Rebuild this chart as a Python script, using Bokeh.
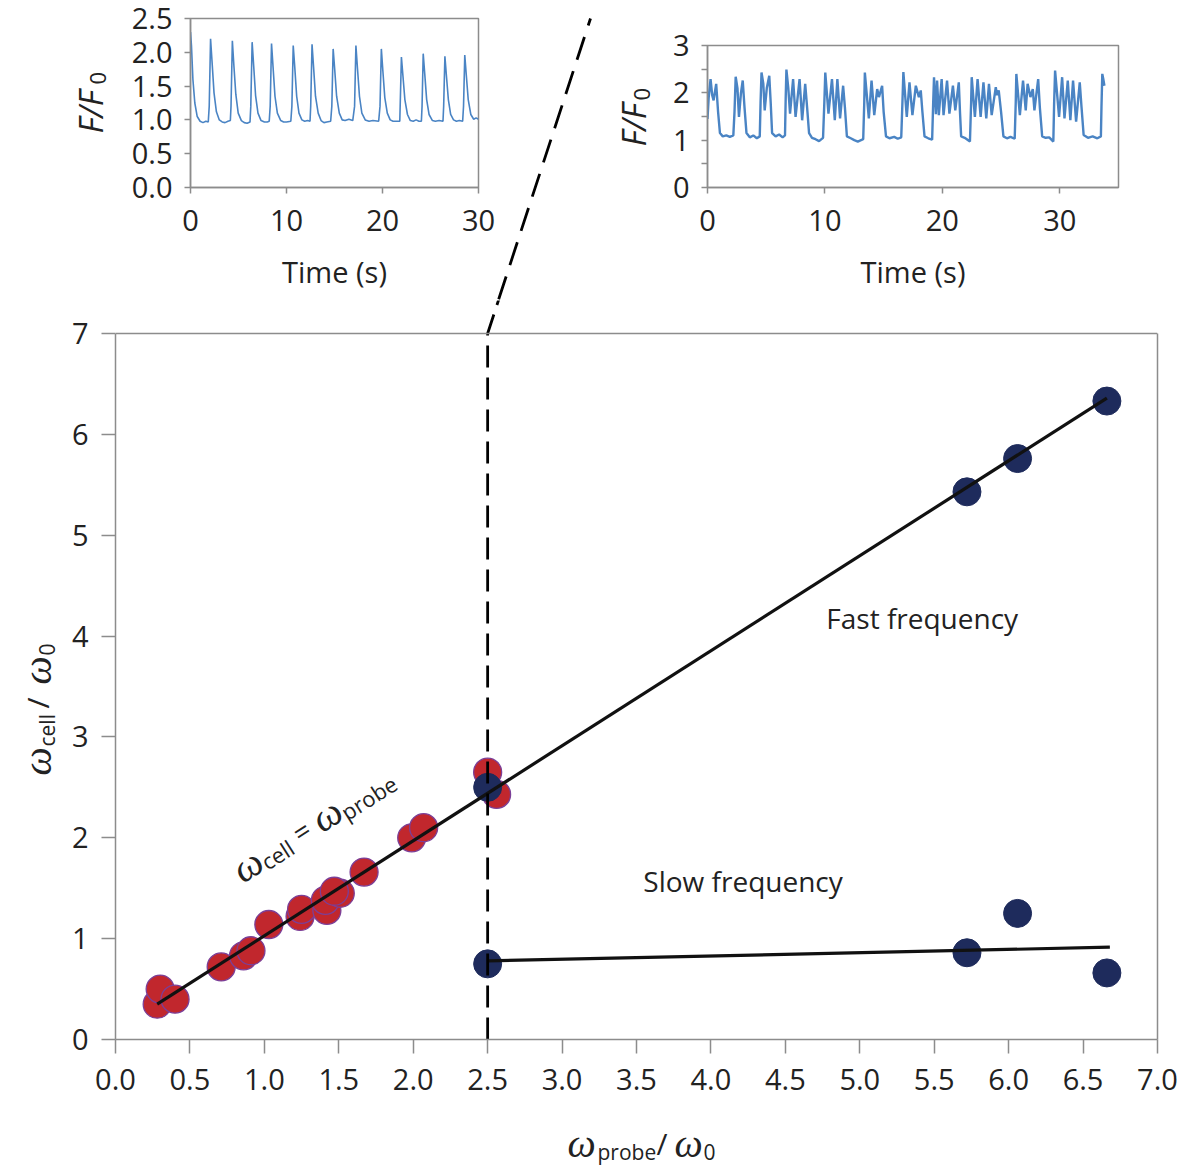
import math
from bokeh.plotting import figure
from bokeh.layouts import column, row
from bokeh.models import Label, FixedTicker, PrintfTickFormatter, LinearAxis, Span
from bokeh.embed import file_html
from bokeh.resources import INLINE

FONT = "Open Sans"
SERIF = "Liberation Serif"
INK = "#222222"
FRAME = "#8c8c8c"
TRACE = "#4a84c4"

# ---- main panel: cell frequency vs probe frequency ----
red_probe = [0.28, 0.30, 0.40, 0.71, 0.86, 0.91, 1.03, 1.24, 1.25, 1.42, 1.41, 1.51, 1.47, 1.67, 1.99, 2.07, 2.50, 2.56]
red_cell = [0.35, 0.50, 0.40, 0.72, 0.83, 0.88, 1.14, 1.22, 1.29, 1.28, 1.38, 1.45, 1.47, 1.66, 2.00, 2.10, 2.65, 2.43]

fast_probe = [2.50, 5.72, 6.06, 6.66]
fast_cell = [2.50, 5.43, 5.76, 6.33]
slow_probe = [2.50, 5.72, 6.06, 6.66]
slow_cell = [0.75, 0.86, 1.25, 0.66]

fit_fast_x = [0.28, 6.66]
fit_fast_y = [0.35, 6.36]
fit_slow_x = [2.50, 6.68]
fit_slow_y = [0.78, 0.915]

# dashed split at 2.5, bending off toward the right-hand inset above the panel
split_x = [2.5, 2.5, 3.19]
split_y = [0.0, 7.0, 10.12]

main_xticks = [0.0, 0.5, 1.0, 1.5, 2.0, 2.5, 3.0, 3.5, 4.0, 4.5, 5.0, 5.5, 6.0, 6.5, 7.0]
main_yticks = [0, 1, 2, 3, 4, 5, 6, 7]

# ---- left inset: regular spiking trace ----
regular_t = [0.0, 0.1, 0.25, 0.45, 0.7, 1.0, 1.3, 1.6, 1.85,
             1.95, 2.09, 2.25, 2.45, 2.7, 3.0, 3.3, 3.6, 3.9, 4.15,
             4.22, 4.36, 4.52, 4.72, 4.97, 5.3, 5.6, 5.9, 6.2,
             6.28, 6.42, 6.58, 6.78, 7.03, 7.35, 7.7, 8.0, 8.2,
             8.3, 8.44, 8.6, 8.8, 9.05, 9.4, 9.7, 10.0, 10.45,
             10.56, 10.7, 10.86, 11.06, 11.3, 11.6, 11.9, 12.2, 12.45,
             12.52, 12.66, 12.82, 13.02, 13.3, 13.6, 13.9, 14.2, 14.6,
             14.72, 14.86, 15.02, 15.22, 15.5, 15.8, 16.1, 16.5, 16.9,
             17.09, 17.23, 17.4, 17.6, 17.85, 18.2, 18.6, 19.0, 19.6,
             19.74, 19.88, 20.04, 20.24, 20.5, 20.8, 21.1, 21.5, 21.8,
             21.84, 21.97, 22.13, 22.33, 22.6, 22.9, 23.2, 23.5, 23.8, 24.05,
             24.12, 24.24, 24.4, 24.6, 24.85, 25.2, 25.5, 25.9, 26.3,
             26.37, 26.5, 26.66, 26.86, 27.1, 27.4, 27.7, 28.0, 28.35,
             28.44, 28.57, 28.73, 28.93, 29.2, 29.5, 29.75, 30.0]
regular_f = [2.30, 2.10, 1.60, 1.25, 1.05, 0.98, 0.96, 0.98, 0.97,
             1.20, 2.20, 1.85, 1.40, 1.12, 1.00, 0.97, 0.96, 0.98, 0.99,
             1.20, 2.17, 1.80, 1.38, 1.10, 0.99, 0.96, 0.95, 0.97,
             1.20, 2.15, 1.80, 1.36, 1.10, 0.99, 0.97, 0.97, 0.98,
             1.20, 2.13, 1.78, 1.35, 1.10, 0.99, 0.97, 0.97, 0.98,
             1.20, 2.10, 1.78, 1.35, 1.10, 1.00, 0.98, 0.99, 0.98,
             1.20, 2.12, 1.78, 1.35, 1.10, 0.99, 0.96, 0.97, 0.98,
             1.20, 2.05, 1.75, 1.35, 1.10, 1.00, 0.99, 1.01, 0.99,
             1.20, 2.10, 1.75, 1.35, 1.10, 1.00, 0.98, 0.99, 0.98,
             1.20, 2.05, 1.72, 1.33, 1.10, 1.00, 0.98, 0.98, 0.98,
             1.20, 1.93, 1.65, 1.30, 1.08, 0.99, 0.98, 1.00, 0.98, 0.98,
             1.20, 1.98, 1.68, 1.30, 1.08, 0.99, 0.98, 0.99, 0.98,
             1.20, 1.94, 1.65, 1.30, 1.08, 1.00, 0.98, 0.99, 0.98,
             1.20, 1.96, 1.66, 1.30, 1.08, 1.01, 1.03, 1.01]

# ---- right inset: bursting trace ----
burst_t = [0.0, 0.1, 0.26, 0.4, 0.52, 0.74, 0.9, 1.06, 1.3, 1.6, 1.9, 2.2,
           2.3, 2.4, 2.55, 2.68, 2.85, 3.0, 3.15, 3.32, 3.6, 3.9, 4.2, 4.45,
           4.52, 4.6, 4.75, 4.87, 5.05, 5.26, 5.38, 5.5, 5.8, 6.1, 6.4, 6.6,
           6.66, 6.72, 6.88, 7.03, 7.29, 7.5, 7.84, 8.06, 8.32, 8.48, 8.65, 8.9, 9.2, 9.5, 9.84,
           9.95, 10.03, 10.3, 10.6, 10.84, 11.06, 11.29, 11.55, 11.7, 11.87, 12.2, 12.5, 12.8, 13.26,
           13.35, 13.4, 13.74, 13.97, 14.2, 14.45, 14.6, 14.87, 15.0, 15.2, 15.5, 15.9, 16.2, 16.5,
           16.6, 16.68, 16.97, 17.2, 17.45, 17.74, 18.0, 18.16, 18.3, 18.48, 18.8, 19.13,
           19.22, 19.29, 19.45, 19.55, 19.7, 19.94, 20.1, 20.4, 20.6, 20.9, 21.1, 21.4, 21.5, 21.6, 21.9, 22.35,
           22.45, 22.5, 22.77, 23.0, 23.26, 23.5, 23.74, 23.97, 24.2, 24.55, 24.65, 24.8, 25.0, 25.2, 25.5, 25.8, 26.16,
           26.25, 26.3, 26.6, 26.87, 27.1, 27.26, 27.5, 27.7, 27.84, 28.16, 28.3, 28.5, 28.8, 29.1, 29.45,
           29.52, 29.6, 29.94, 30.2, 30.4, 30.68, 30.9, 31.13, 31.39, 31.7, 31.85, 32.03, 32.4, 32.8, 33.2, 33.5,
           33.55, 33.62, 33.7, 33.8]
burst_f = [1.45, 1.90, 2.29, 1.95, 1.84, 2.19, 1.60, 1.15, 1.08, 1.10, 1.07, 1.10,
           1.60, 2.34, 2.10, 1.49, 2.00, 2.26, 1.70, 1.15, 1.06, 1.10, 1.04, 1.08,
           1.80, 2.43, 2.20, 1.63, 2.10, 2.36, 1.80, 1.15, 1.08, 1.12, 1.06, 1.10,
           1.90, 2.49, 2.10, 1.56, 2.29, 1.49, 2.29, 1.42, 2.19, 1.70, 1.15, 1.05, 1.02, 0.98, 1.05,
           1.80, 2.43, 1.56, 2.29, 1.42, 2.29, 1.46, 2.15, 1.70, 1.08, 1.04, 1.00, 0.97, 1.02,
           1.80, 2.43, 1.46, 2.26, 1.53, 2.08, 1.91, 2.15, 1.60, 1.08, 1.04, 1.07, 1.03, 1.06,
           1.80, 2.44, 1.49, 2.22, 1.53, 2.15, 1.91, 2.05, 1.60, 1.08, 1.04, 1.01,
           1.80, 2.33, 1.55, 2.26, 1.53, 2.29, 1.53, 2.26, 1.56, 2.15, 1.63, 2.22, 1.60, 1.08, 1.05, 0.97,
           1.80, 2.33, 1.49, 2.29, 1.49, 2.22, 1.46, 2.19, 1.53, 2.12, 1.95, 2.05, 1.60, 1.08, 1.04, 1.07, 1.03,
           1.80, 2.40, 1.53, 2.26, 1.63, 2.19, 1.91, 2.08, 1.63, 2.29, 1.70, 1.08, 1.05, 1.06, 0.97,
           1.80, 2.47, 1.49, 2.33, 1.46, 2.26, 1.42, 2.26, 1.39, 2.22, 1.70, 1.11, 1.05, 1.08, 1.04, 1.08,
           1.70, 2.40, 2.30, 2.15]

regular_xticks = [0, 10, 20, 30]
regular_yticks = [0.0, 0.5, 1.0, 1.5, 2.0, 2.5]
burst_xticks = [0, 10, 20, 30]
burst_yticks = [0, 1, 2, 3]
burst_yminor = [0.5, 1.5, 2.5]

# upper part of the dashed zoom line, in page pixels
zoom_x = [487, 590]
zoom_y = [333, 18]


def no_align(fig):
    try:
        fig.frame_align = False
    except AttributeError:
        pass
    return fig


def style(p, tick_out):
    p.grid.grid_line_color = None
    p.outline_line_color = FRAME
    p.outline_line_width = 1.5
    for ax in p.axis:
        ax.axis_line_color = FRAME
        ax.axis_line_width = 1.5
        ax.major_tick_line_color = FRAME
        ax.major_tick_line_width = 1.5
        ax.major_tick_in = 0
        ax.major_tick_out = tick_out
        ax.minor_tick_line_color = None
        ax.major_label_text_font = FONT
        ax.major_label_text_font_size = "29px"
        ax.major_label_text_color = INK
        ax.major_label_standoff = 12
        ax.axis_label_text_font = FONT
        ax.axis_label_text_font_size = "29px"
        ax.axis_label_text_font_style = "normal"
        ax.axis_label_text_color = INK


def strip(x0, y0, w, h):
    # blank panel whose data space is page pixels (y downwards)
    s = figure(width=w, height=h, x_range=(x0, x0 + w), y_range=(y0 + h, y0),
               x_axis_type=None, y_axis_type=None, output_backend="svg", toolbar_location=None,
               min_border=0, min_border_left=0, min_border_right=0, min_border_top=0, min_border_bottom=0)
    s.outline_line_color = None
    s.grid.grid_line_color = None
    return no_align(s)


def text(p, s, x, y, size, font=FONT, fstyle="normal", angle=0.0, xo=0, yo=0):
    p.add_layout(Label(x=x, y=y, text=s, angle=angle, x_offset=xo, y_offset=yo,
                       text_font=font, text_font_size=size, text_font_style=fstyle,
                       text_color=INK, text_align="left", text_baseline="alphabetic"))


up = math.pi / 2

# ---------- left inset ----------
lab1 = strip(0, 0, 120, 300)
text(lab1, "F/F", 90, 133, "33px", fstyle="italic", angle=up)
text(lab1, "0", 97, 84, "22px", angle=up)

p1 = figure(width=375, height=300, x_range=(0, 30), y_range=(0, 2.5),
            output_backend="svg", toolbar_location=None,
            min_border_left=70, min_border_right=17, min_border_top=18, min_border_bottom=113)
no_align(p1)
p1.line(regular_t, regular_f, line_color=TRACE, line_width=1.6)
style(p1, 6)
p1.xaxis.ticker = FixedTicker(ticks=regular_xticks)
p1.yaxis.ticker = FixedTicker(ticks=regular_yticks)
p1.yaxis.formatter = PrintfTickFormatter(format="%.1f")
p1.xaxis.major_label_standoff = 16
p1.xaxis.axis_label = "Time (s)"
p1.xaxis.axis_label_standoff = 18

diag_a = strip(495, 0, 105, 300)
diag_a.line(zoom_x, zoom_y, line_color="black", line_width=2.8, line_dash="24 12")

# ---------- right inset ----------
lab2 = strip(600, 0, 55, 300)
text(lab2, "F/F", 633, 146, "33px", fstyle="italic", angle=up)
text(lab2, "0", 641, 100, "22px", angle=up)

p2 = figure(width=525, height=300, x_range=(0, 35), y_range=(0, 3),
            output_backend="svg", toolbar_location=None,
            min_border_left=52, min_border_right=62, min_border_top=45, min_border_bottom=113)
no_align(p2)
p2.line(burst_t, burst_f, line_color=TRACE, line_width=2.4)
style(p2, 6)
p2.xaxis.ticker = FixedTicker(ticks=burst_xticks)
p2.yaxis.ticker = FixedTicker(ticks=burst_yticks, minor_ticks=burst_yminor)
p2.yaxis.minor_tick_line_color = FRAME
p2.yaxis.minor_tick_line_width = 1.5
p2.yaxis.minor_tick_in = 0
p2.yaxis.minor_tick_out = 6
p2.xaxis.major_label_standoff = 16
p2.xaxis.axis_label = "Time (s)"
p2.xaxis.axis_label_standoff = 18

# ---------- main panel ----------
ylab = strip(0, 300, 60, 802)
text(ylab, "\u03c9", 37, 775, "40px", font=SERIF, fstyle="italic", angle=up)
text(ylab, "cell", 46, 746, "21px", angle=up)
text(ylab, "/", 37, 708, "30px", angle=up)
text(ylab, "\u03c9", 37, 684, "40px", font=SERIF, fstyle="italic", angle=up)
text(ylab, "0", 46, 655, "21px", angle=up)

# the frame reaches 33 px above the box so the dashed line can leave it
p = figure(width=1120, height=802, x_range=(0, 7), y_range=(0, 7.327),
           output_backend="svg", toolbar_location=None,
           min_border_left=55, min_border_right=23, min_border_top=0, min_border_bottom=63)
no_align(p)
p.scatter(red_probe, red_cell, size=28, fill_color="#c1272d", line_color="#7b3f98", line_width=1.3)
p.scatter(fast_probe, fast_cell, size=28, fill_color="#1e2b5c", line_color="#1e2b5c")
p.scatter(slow_probe, slow_cell, size=28, fill_color="#1e2b5c", line_color="#1e2b5c")
p.line(fit_fast_x, fit_fast_y, line_color="#111111", line_width=3.2)
p.line(fit_slow_x, fit_slow_y, line_color="#111111", line_width=3.2)
p.line(split_x, split_y, line_color="black", line_width=2.8, line_dash="22 10")
p.add_layout(LinearAxis(ticker=FixedTicker(ticks=[]), bounds=(0, 7)), "right")
style(p, 14)
p.outline_line_color = None
p.add_layout(Span(location=7, dimension="width", line_color=FRAME, line_width=1.5))
p.xaxis.ticker = FixedTicker(ticks=main_xticks)
p.yaxis[0].ticker = FixedTicker(ticks=main_yticks)
p.yaxis.bounds = (0, 7)
p.xaxis.formatter = PrintfTickFormatter(format="%.1f")
p.yaxis[0].formatter = PrintfTickFormatter(format="%d")
p.xaxis.major_label_standoff = 15
p.yaxis[0].major_label_standoff = 13

p.add_layout(Label(x=4.775, y=4.18, text="Fast frequency", text_font=FONT, text_font_size="28px",
                   text_color=INK, text_baseline="middle"))
p.add_layout(Label(x=3.546, y=1.576, text="Slow frequency", text_font=FONT, text_font_size="28px",
                   text_color=INK, text_baseline="middle"))

# rotated equation along the identity fit
a = math.atan2(603, 949)
ux, uy = math.cos(a), math.sin(a)
nx, ny = math.sin(a), -math.cos(a)
eq_x, eq_y = 0.806, 1.655
for s, along, down, size, font, fs in [("\u03c9", 0, 0, "40px", SERIF, "italic"),
                                       ("cell", 28, 7, "22px", FONT, "normal"),
                                       ("=", 70, 0, "28px", FONT, "normal"),
                                       ("\u03c9", 94, 0, "40px", SERIF, "italic"),
                                       ("probe", 122, 8, "22px", FONT, "normal")]:
    text(p, s, eq_x, eq_y, size, font=font, fstyle=fs, angle=a,
         xo=along * ux + down * nx, yo=along * uy + down * ny)

xlab = strip(0, 1102, 1180, 66)
text(xlab, "\u03c9", 567, 1143, "40px", font=SERIF, fstyle="italic")
text(xlab, "probe", 597, 1151, "21px")
text(xlab, "/", 656, 1143, "30px")
text(xlab, "\u03c9", 674, 1143, "40px", font=SERIF, fstyle="italic")
text(xlab, "0", 703, 1151, "21px")

layout = column(row(lab1, p1, diag_a, lab2, p2), row(ylab, p), xlab)
open("out.html", "w").write(file_html(layout, INLINE))
